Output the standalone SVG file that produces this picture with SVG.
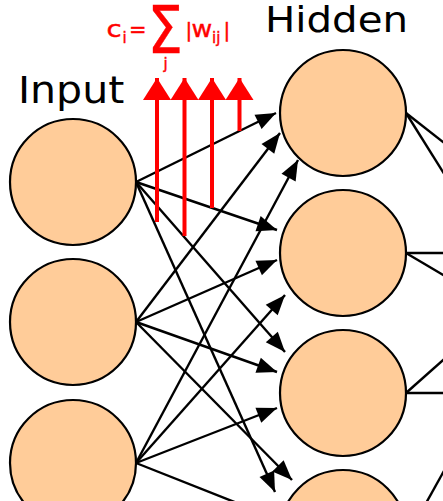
<svg xmlns="http://www.w3.org/2000/svg" width="443" height="501" viewBox="0 0 443 501">
  <style>
    .node { fill: #ffcc99; stroke: #000; stroke-width: 2.2; }
    .edge { stroke: #000; stroke-width: 2.4; fill: none; }
    .arrow { marker-end: url(#head); }
    .imp { stroke: #ff0000; stroke-width: 4; marker-end: url(#redhead); }
    .label { font-family: "DejaVu Sans", sans-serif; fill: #000; }
    .formula { font-family: "DejaVu Sans", sans-serif; fill: #ff0000; stroke: #ff0000; stroke-width: 0.4; }
  </style>
  <defs>
    <marker id="head" markerUnits="userSpaceOnUse" markerWidth="22" markerHeight="18" refX="20" refY="8" orient="auto" overflow="visible">
      <path d="M0,0 L20,8 L0,16 z" fill="#000"/>
    </marker>
    <marker id="redhead" markerUnits="userSpaceOnUse" markerWidth="24" markerHeight="30" refX="22" refY="14" orient="auto" overflow="visible">
      <path d="M0,0 L22,14 L0,28 z" fill="#ff0000"/>
    </marker>
  </defs>

  <!-- layer titles -->
  <text class="label" transform="translate(18,103) scale(1.08,1)" font-size="38">Input</text>
  <text class="label" transform="translate(265,32) scale(1.12,1)" font-size="36">Hidden</text>

  <!-- weight connectors -->
  <g id="connectors">
    <!-- input 1 -->
    <line class="edge arrow" x1="136" y1="182" x2="276" y2="113"/>
    <line class="edge arrow" x1="136" y1="182" x2="277" y2="230"/>
    <line class="edge arrow" x1="136" y1="182" x2="285" y2="352"/>
    <line class="edge arrow" x1="136" y1="182" x2="275" y2="492"/>
    <!-- input 2 -->
    <line class="edge arrow" x1="136" y1="322" x2="280" y2="133"/>
    <line class="edge arrow" x1="136" y1="322" x2="277" y2="260"/>
    <line class="edge arrow" x1="136" y1="322" x2="277" y2="372"/>
    <line class="edge arrow" x1="136" y1="322" x2="292" y2="480"/>
    <!-- input 3 -->
    <line class="edge arrow" x1="136" y1="463" x2="298" y2="160"/>
    <line class="edge arrow" x1="136" y1="463" x2="285" y2="295"/>
    <line class="edge arrow" x1="136" y1="463" x2="277" y2="408"/>
    <line class="edge arrow" x1="136" y1="463" x2="280" y2="520"/>
    <!-- hidden to next layer -->
    <line class="edge" x1="406" y1="113" x2="470" y2="163"/>
    <line class="edge" x1="406" y1="113" x2="460" y2="199"/>
    <line class="edge" x1="406" y1="253" x2="470" y2="253"/>
    <line class="edge" x1="406" y1="253" x2="470" y2="291"/>
    <line class="edge" x1="406" y1="393" x2="470" y2="336"/>
    <line class="edge" x1="406" y1="393" x2="470" y2="393"/>
    <line class="edge" x1="405" y1="541" x2="460" y2="442"/>
  </g>

  <!-- input nodes -->
  <g id="input-1"><circle class="node" cx="73" cy="182" r="63"/></g>
  <g id="input-2"><circle class="node" cx="73" cy="322" r="63"/></g>
  <g id="input-3"><circle class="node" cx="73" cy="463" r="63"/></g>

  <!-- hidden nodes -->
  <g id="hidden-1"><circle class="node" cx="343" cy="113" r="63"/></g>
  <g id="hidden-2"><circle class="node" cx="343" cy="253" r="63"/></g>
  <g id="hidden-3"><circle class="node" cx="343" cy="393" r="63"/></g>
  <g id="hidden-4"><circle class="node" cx="343" cy="533" r="63"/></g>

  <!-- importance arrows -->
  <g id="importance">
    <line class="imp" x1="157" y1="222" x2="157" y2="78"/>
    <line class="imp" x1="184.5" y1="236" x2="184.5" y2="78"/>
    <line class="imp" x1="212" y1="208" x2="212" y2="78"/>
    <line class="imp" x1="239.5" y1="131" x2="239.5" y2="78"/>
  </g>

  <!-- importance formula -->
  <g id="formula" class="formula">
    <text transform="translate(106.5,37) scale(1.2,1)" font-size="23">c</text>
    <text x="122.5" y="43" font-size="15">i</text>
    <text transform="translate(129,37) scale(0.95,1)" font-size="22">=</text>
    <text transform="translate(147.5,53) scale(0.85,1)" font-size="66">Σ</text>
    <text x="163.5" y="69" font-size="15">j</text>
    <text x="185.5" y="37" font-size="20">|</text>
    <text transform="translate(191.5,37) scale(1.1,1)" font-size="23">w</text>
    <text x="212" y="43" font-size="15">ij</text>
    <text x="223.5" y="37" font-size="20">|</text>
  </g>
</svg>
